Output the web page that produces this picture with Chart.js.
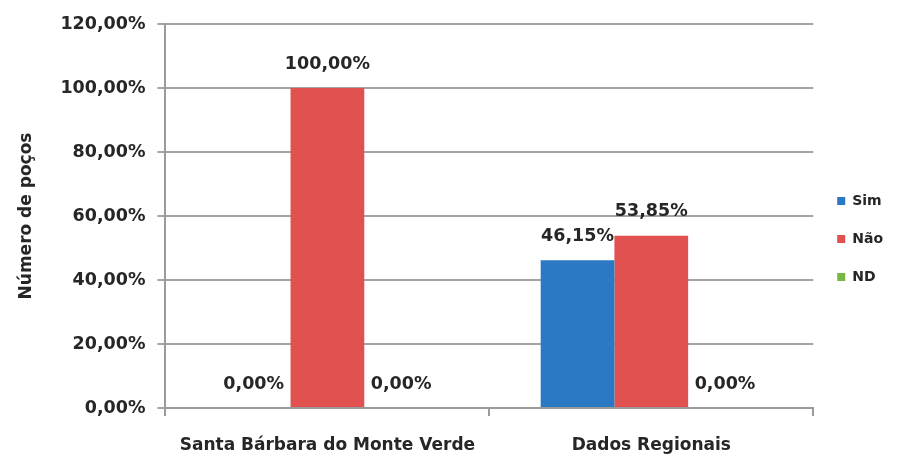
<!DOCTYPE html>
<html>
<head>
<meta charset="utf-8">
<script src="https://cdn.jsdelivr.net/npm/chart.js@4.4.0/dist/chart.umd.min.js"></script>
<style>
    body { margin: 0; background: #fff; }
    .chart { width: 916px; height: 458px; }
</style>
</head>
<body onload="onInit()">
<div class="chart"><canvas id="myChart" width="916" height="458"></canvas></div>
<script>
'use strict'

const categories = ['Santa Bárbara do Monte Verde', 'Dados Regionais']
const seriesNames = ['Sim', 'Não', 'ND']
const simValues = [0, 46.15]
const naoValues = [100, 53.85]
const ndValues = [0, 0]
const yTicks = [0, 20, 40, 60, 80, 100, 120]

const colors = ['#2b79c5', '#e1514f', '#77b843']
const FONT = '"DejaVu Sans", sans-serif'

var gChart

function fmtPct(val) {
    return val.toFixed(2).replace('.', ',') + '%'
}

const barLabels = {
    id: 'barLabels',
    afterDatasetsDraw(chart) {
        const ctx = chart.ctx
        ctx.save()
        ctx.font = 'bold 17.5px ' + FONT
        ctx.fillStyle = '#262626'
        ctx.textAlign = 'center'
        ctx.textBaseline = 'middle'
        chart.data.datasets.forEach((ds, i) => {
            chart.getDatasetMeta(i).data.forEach((bar, j) => {
                ctx.fillText(fmtPct(ds.data[j]), bar.x, bar.y - 24)
            })
        })
        ctx.restore()
    }
}

function onInit() {
    const ctx = document.getElementById('myChart')
    const allValues = [simValues, naoValues, ndValues]
    gChart = new Chart(ctx, {
        type: 'bar',
        data: {
            labels: categories,
            datasets: seriesNames.map((name, i) => ({
                label: name,
                data: allValues[i],
                backgroundColor: colors[i],
                borderWidth: 0,
                categoryPercentage: 0.683,
                barPercentage: 1
            }))
        },
        options: {
            responsive: false,
            animation: false,
            layout: { padding: { top: 24, right: 23, left: 10, bottom: 4 } },
            plugins: {
                tooltip: { enabled: false },
                legend: {
                    position: 'right',
                    labels: {
                        boxWidth: 8,
                        boxHeight: 8,
                        padding: 24,
                        color: '#262626',
                        font: { family: FONT, size: 14, weight: 'bold' }
                    }
                }
            },
            scales: {
                x: {
                    offset: true,
                    afterFit: axis => { axis.height = 46 },
                    grid: {
                        offset: true,
                        drawOnChartArea: false,
                        tickLength: 8,
                        color: '#9a9a9a',
                        lineWidth: 2
                    },
                    border: { color: '#9a9a9a', width: 2 },
                    ticks: {
                        padding: 19,
                        maxRotation: 0,
                        autoSkip: false,
                        color: '#262626',
                        font: { family: FONT, size: 17, weight: 'bold' }
                    }
                },
                y: {
                    min: 0,
                    max: 120,
                    afterBuildTicks: axis => { axis.ticks = yTicks.map(v => ({ value: v })) },
                    grid: { color: '#a4a4a4', lineWidth: 2, tickLength: 8 },
                    border: { color: '#9a9a9a', width: 2 },
                    ticks: {
                        padding: 12,
                        color: '#262626',
                        font: { family: FONT, size: 17.5, weight: 'bold' },
                        callback: val => fmtPct(val)
                    },
                    title: {
                        display: true,
                        text: 'Número de poços',
                        color: '#262626',
                        padding: { top: 6, bottom: 12 },
                        font: { family: FONT, size: 17, weight: 'bold' }
                    }
                }
            }
        },
        plugins: [barLabels]
    })
}
</script>
</body>
</html>
